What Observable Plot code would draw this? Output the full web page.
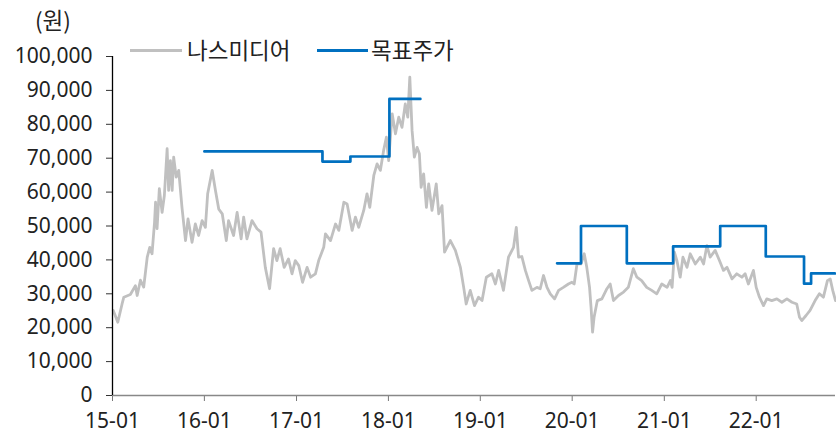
<!DOCTYPE html>
<html><head><meta charset="utf-8">
<script src="https://cdn.jsdelivr.net/npm/d3@7"></script>
<script src="https://cdn.jsdelivr.net/npm/@observablehq/plot@0.6"></script>
<style>
body{margin:0;background:#fff;font-family:"Noto Sans","Noto Sans CJK KR",sans-serif;}
#wrap{position:relative;width:836px;height:434px;}
.lab{position:absolute;font-size:22.5px;color:#222;white-space:nowrap;line-height:1;font-family:"Noto Sans CJK KR","Noto Sans",sans-serif;}
.sw{position:absolute;height:3px;}
</style></head><body>
<div id="wrap"></div>
<script>
// 나스미디어 종가 (원)
const priceDates = [
"2015-01-04","2015-01-22","2015-02-08","2015-02-15","2015-03-13","2015-04-02","2015-04-09","2015-04-22","2015-05-05","2015-05-19","2015-05-29","2015-06-07","2015-06-17","2015-06-21","2015-06-27","2015-07-06","2015-07-17","2015-07-26","2015-08-06","2015-08-12","2015-08-19","2015-08-26","2015-09-01","2015-09-11","2015-09-21","2015-10-04","2015-10-18","2015-10-28","2015-11-13","2015-11-26","2015-12-09","2015-12-23",
"2016-01-05","2016-01-14","2016-02-01","2016-02-14","2016-02-27","2016-03-12","2016-03-28","2016-04-06","2016-04-26","2016-05-10","2016-05-26","2016-06-05","2016-06-18","2016-07-08","2016-07-28","2016-08-13","2016-08-30","2016-09-16","2016-10-02","2016-10-15","2016-10-28","2016-11-13","2016-11-30","2016-12-14","2016-12-27",
"2017-01-10","2017-01-25","2017-02-12","2017-02-26","2017-03-17","2017-03-30","2017-04-19","2017-04-26","2017-05-16","2017-06-05","2017-06-18","2017-07-08","2017-07-21","2017-08-10","2017-08-23","2017-09-05","2017-09-25","2017-10-08","2017-10-19","2017-11-04","2017-11-17","2017-11-30","2017-12-13","2017-12-24",
"2018-01-02","2018-01-16","2018-01-29","2018-02-11","2018-02-24","2018-03-09","2018-03-19","2018-03-27","2018-04-05","2018-04-14","2018-04-25","2018-05-04","2018-05-11","2018-05-21","2018-06-01","2018-06-10","2018-06-23","2018-07-10","2018-07-20","2018-08-02","2018-08-12","2018-09-04","2018-09-24","2018-10-14","2018-10-27","2018-11-06","2018-11-22","2018-12-09","2018-12-25",
"2019-01-08","2019-01-25","2019-02-16","2019-03-02","2019-03-15","2019-04-03","2019-04-23","2019-05-13","2019-05-24","2019-06-02","2019-06-15","2019-06-29","2019-07-12","2019-07-25","2019-08-14","2019-08-27","2019-09-09","2019-09-23","2019-10-06","2019-10-23","2019-11-08","2019-11-27","2019-12-17","2019-12-31",
"2020-01-09","2020-01-20","2020-02-05","2020-02-18","2020-02-28","2020-03-10","2020-03-16","2020-03-22","2020-03-28","2020-04-10","2020-04-28","2020-05-18","2020-05-31","2020-06-13","2020-07-03","2020-07-23","2020-08-11","2020-08-31","2020-09-14","2020-10-03","2020-10-23","2020-11-12","2020-12-02","2020-12-22",
"2021-01-12","2021-01-25","2021-02-01","2021-02-10","2021-02-20","2021-03-05","2021-03-16","2021-04-01","2021-04-14","2021-05-04","2021-05-24","2021-06-06","2021-06-19","2021-07-02","2021-07-22","2021-08-08","2021-08-24","2021-09-07","2021-09-27","2021-10-16","2021-11-05","2021-11-18","2021-12-01","2021-12-21",
"2022-01-01","2022-01-14","2022-01-30","2022-02-12","2022-03-04","2022-03-24","2022-04-13","2022-05-03","2022-05-23","2022-06-11","2022-06-22","2022-07-01","2022-07-18","2022-08-03","2022-08-23","2022-09-09","2022-09-25","2022-10-11","2022-10-22","2022-11-01","2022-11-12"
];
const priceValues = [
25100,21600,27000,29000,29800,32400,29500,34000,32000,40800,43700,41800,51100,57000,49200,61000,54000,59000,72800,60500,69300,60500,70300,64400,66400,55500,45700,52100,45200,50600,47200,51600,
49600,59500,66400,60500,55000,53600,45700,51600,47200,54000,46200,52600,46200,51600,49200,48200,37800,31500,43300,39800,43300,37800,40300,35900,39800,
38300,33400,37800,34900,35900,39800,43700,47700,45700,50600,48700,57000,56500,48700,52600,49600,54600,59500,55500,64900,68300,66400,72300,76200,
69300,83100,77200,82100,79100,86000,82100,93900,78200,70300,73200,71300,61400,65400,55500,62400,54600,62400,53600,56000,42300,45700,42800,37800,31900,27000,31000,26500,29000,
28000,34900,35900,32900,36900,31000,40800,43700,49600,40800,41000,36900,33900,31000,31900,31500,35400,31900,30000,28500,31000,31900,32900,33400,
32900,38800,38800,41800,37800,31900,26000,18700,23100,28000,28500,31500,32900,28000,29500,30500,31900,37400,34900,33900,31900,31000,30000,32900,
31900,33900,31900,42300,39800,34900,40800,37800,41800,38800,40800,38800,44200,40800,42800,39800,36900,37800,34400,35900,34900,35900,32900,36900,
31900,29000,26500,28500,28000,28500,27500,28500,27500,27000,23100,22100,23600,25100,28000,30000,29000,33900,34400,31000,28000
];
// 목표주가 (원)
const targetDates = ["2016-01-01","2017-04-14","2017-08-03","2018-01-05","2018-05-08",
  "2019-11-02","2020-02-05","2020-08-05","2021-02-05","2021-08-11","2022-02-08","2022-07-10","2022-08-07","2022-11-10"];
const targetValues = [72000,69000,70500,87500,87500,
  39000,50000,39000,44000,50000,41000,33000,36000,36000];
const targetSegment = [1,1,1,1,1,2,2,2,2,2,2,2,2,2];
const xTickLabels = ["15-01","16-01","17-01","18-01","19-01","20-01","21-01","22-01"];
const yTickValues = [0,10000,20000,30000,40000,50000,60000,70000,80000,90000,100000];
const xStart = "2015-01-01", xEnd = "2022-11-12";
const seriesNames = ["나스미디어","목표주가"];
const seriesColors = ["#c0c0c0","#0070c0"];

const parse = d3.utcParse("%Y-%m-%d");
const price = priceDates.map((d,i)=>({date:parse(d), value:priceValues[i]}));
const target = targetDates.map((d,i)=>({date:parse(d), value:targetValues[i], seg:targetSegment[i]}));
const xTicks = xTickLabels.map(s=>parse("20"+s+"-01"));

const chart = Plot.plot({
  width: 836, height: 434,
  marginLeft: 112, marginRight: 1, marginTop: 56, marginBottom: 39,
  style: {fontFamily: '"Noto Sans","Noto Sans CJK KR",sans-serif', color: "#222", background: "#fff"},
  x: {type: "utc", domain: [parse(xStart), parse(xEnd)]},
  y: {domain: [0, 100000]},
  marks: [
    Plot.line(price, {x:"date", y:"value", stroke: seriesColors[0], strokeWidth: 2.8}),
    Plot.line(target, {x:"date", y:"value", z:"seg", curve:"step-after", stroke: seriesColors[1], strokeWidth: 2.7}),
    Plot.axisY({ticks: yTickValues, tickFormat: d3.format(","), tickSize: 6, tickPadding: 14, fontSize: 21, label: null, stroke:"#333", fill:"#222"}),
    Plot.axisX({ticks: xTicks, tickFormat: d3.utcFormat("%y-%m"), tickSize: 6, tickPadding: 12, fontSize: 21, label: null, stroke:"#777", fill:"#222"}),
    Plot.ruleY([0], {stroke:"#888", strokeWidth: 1.5}),
    Plot.ruleX([parse(xStart)], {stroke:"#000", strokeWidth: 1.3})
  ]
});
const wrap = document.getElementById("wrap");
wrap.appendChild(chart);
function add(cls, css, text){const e=document.createElement("div");e.className=cls;Object.assign(e.style,css);if(text)e.textContent=text;wrap.appendChild(e);}
add("lab",{left:"35px",top:"8px"},"(원)");
add("sw",{left:"130px",top:"49px",width:"52px",background:seriesColors[0]});
add("lab",{left:"187px",top:"38px"},seriesNames[0]);
add("sw",{left:"317px",top:"49px",width:"51px",background:seriesColors[1]});
add("lab",{left:"371px",top:"38px"},seriesNames[1]);
</script>
</body></html>
